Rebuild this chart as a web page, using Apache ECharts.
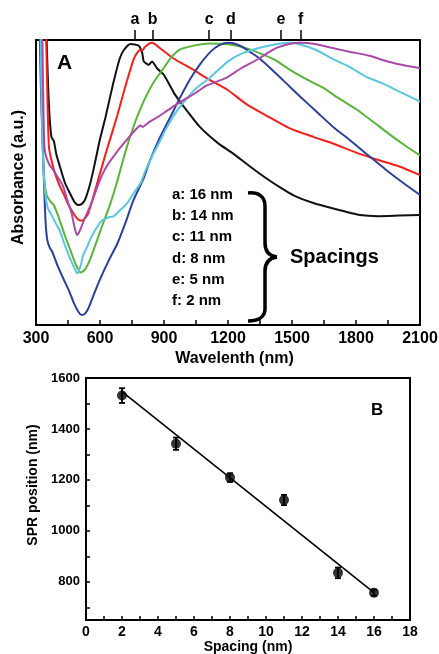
<!DOCTYPE html>
<html>
<head>
<meta charset="utf-8">
<title>SPR spectra</title>
<script src="https://cdn.jsdelivr.net/npm/echarts@6/dist/echarts.min.js"></script>
<style>
  html, body { margin: 0; padding: 0; background: #fff; }
  #chart { width: 439px; height: 654px; }
</style>
</head>
<body>
<div id="chart"></div>
<script>
// ---- panel A: spectra, [wavelength (nm), normalized absorbance] ----
const specA = [[300,3.0],[350,1.0],[360,0.78],[372,0.66],[384,0.645],[395,0.6],[412,0.556],[435,0.5],[459,0.462],[480,0.432],[498,0.421],[515,0.425],[530,0.44],[550,0.485],[568,0.54],[585,0.6],[599,0.649],[626,0.73],[662,0.848],[693,0.936],[712,0.965],[743,0.986],[782,0.98],[798,0.954],[805,0.925],[829,0.913],[844,0.925],[868,0.9],[899,0.878],[950,0.81],[989,0.77],[1067,0.696],[1150,0.64],[1223,0.602],[1300,0.558],[1379,0.515],[1450,0.48],[1505,0.456],[1600,0.428],[1663,0.415],[1750,0.398],[1819,0.386],[1900,0.382],[2003,0.384],[2100,0.386]];
const specB = [[300,3.0],[348,1.0],[355,0.75],[361,0.621],[375,0.57],[389,0.532],[410,0.49],[428,0.462],[450,0.425],[475,0.392],[495,0.372],[514,0.366],[530,0.375],[545,0.392],[565,0.44],[587,0.498],[630,0.61],[681,0.735],[720,0.84],[759,0.935],[787,0.965],[798,0.963],[810,0.975],[829,0.986],[845,0.99],[880,0.972],[943,0.936],[1036,0.896],[1110,0.862],[1192,0.828],[1286,0.775],[1379,0.735],[1489,0.69],[1600,0.66],[1691,0.637],[1800,0.605],[1900,0.58],[2003,0.556],[2100,0.526]];
const specC = [[300,3.0],[326,1.0],[333,0.62],[340,0.5],[350,0.455],[366,0.435],[384,0.42],[410,0.37],[435,0.315],[460,0.265],[485,0.215],[509,0.184],[530,0.195],[556,0.235],[603,0.333],[649,0.427],[681,0.505],[720,0.61],[759,0.7],[790,0.76],[821,0.81],[850,0.85],[883,0.885],[930,0.935],[974,0.966],[1050,0.982],[1114,0.988],[1200,0.985],[1270,0.975],[1348,0.954],[1420,0.93],[1489,0.896],[1560,0.865],[1647,0.832],[1720,0.795],[1803,0.756],[1880,0.713],[1959,0.668],[2030,0.63],[2100,0.595]];
const specD = [[300,3.0],[318,1.0],[326,0.75],[337,0.509],[345,0.36],[353,0.298],[365,0.27],[376,0.257],[400,0.21],[431,0.158],[455,0.12],[478,0.076],[500,0.045],[514,0.035],[530,0.04],[545,0.058],[570,0.105],[599,0.158],[640,0.225],[681,0.285],[720,0.36],[755,0.435],[805,0.515],[833,0.575],[880,0.656],[930,0.73],[974,0.796],[1020,0.86],[1067,0.913],[1120,0.96],[1160,0.982],[1200,0.99],[1240,0.985],[1280,0.97],[1320,0.95],[1348,0.935],[1400,0.9],[1457,0.86],[1491,0.835],[1540,0.8],[1613,0.75],[1700,0.69],[1769,0.65],[1866,0.59],[1940,0.545],[2022,0.498],[2100,0.456]];
const specE = [[300,3.0],[322,1.0],[330,0.65],[342,0.47],[355,0.41],[370,0.39],[390,0.36],[412,0.33],[435,0.28],[459,0.235],[480,0.2],[493,0.181],[510,0.21],[521,0.245],[540,0.275],[560,0.31],[587,0.345],[603,0.362],[618,0.371],[640,0.378],[665,0.382],[690,0.4],[727,0.427],[760,0.465],[790,0.497],[802,0.52],[815,0.545],[849,0.6],[880,0.644],[911,0.69],[950,0.74],[997,0.786],[1050,0.83],[1114,0.867],[1200,0.925],[1270,0.954],[1379,0.978],[1489,0.99],[1535,0.985],[1613,0.965],[1700,0.93],[1769,0.906],[1850,0.87],[1925,0.848],[2000,0.82],[2100,0.784]];
const specF = [[300,3.0],[330,1.0],[335,0.75],[340,0.62],[350,0.585],[365,0.56],[381,0.544],[405,0.515],[428,0.485],[450,0.43],[467,0.392],[480,0.345],[492,0.316],[505,0.33],[525,0.368],[550,0.41],[571,0.45],[595,0.5],[630,0.555],[681,0.609],[720,0.645],[760,0.68],[790,0.7],[800,0.695],[810,0.7],[830,0.712],[860,0.725],[899,0.744],[950,0.77],[1005,0.795],[1050,0.815],[1099,0.84],[1192,0.867],[1260,0.9],[1348,0.936],[1420,0.97],[1489,0.986],[1540,0.99],[1613,0.985],[1700,0.97],[1769,0.959],[1863,0.945],[1925,0.93],[2000,0.915],[2100,0.901]];

const peakLetters = ['a', 'b', 'c', 'd', 'e', 'f'];
const peakPos = [764, 847, 1112, 1213, 1448, 1541];
const letterSpacing = [16, 14, 11, 8, 5, 2];

// ---- panel B: SPR position vs spacing ----
const spacing = [2, 5, 8, 11, 14, 16];
const sprPos = [1531, 1342, 1209, 1121, 835, 757];
const sprErr = [29, 24, 17, 20, 21, 12];
const fitLine = [[2, 1547], [16, 757]];
const sprTicks = [700, 800, 900, 1000, 1100, 1200, 1300, 1400, 1500, 1600];
const sprLabels = [800, 1000, 1200, 1400, 1600];

const FONT = 'Liberation Sans, Arial, sans-serif';
const black = '#000';
const colors = ['#111111', '#f0201c', '#5ab43c', '#2e3f9a', '#5cc6dc', '#a84aa6'];
const spectra = [specA, specB, specC, specD, specE, specF];

const lineAxis = { onZero: false, lineStyle: { color: black, width: 2 } };
const boldText = (size) => ({ color: black, fontWeight: 'bold', fontSize: size, fontFamily: FONT });
const plain = (v) => String(v);

// curly brace next to the spacing list
const braceStyle = { stroke: black, lineWidth: 3.5, fill: null };
const bez = (x1, y1, cpx1, cpy1, cpx2, cpy2, x2, y2) => ({
  type: 'bezierCurve', shape: { x1, y1, cpx1, cpy1, cpx2, cpy2, x2, y2 }, style: braceStyle
});
const seg = (x1, y1, x2, y2) => ({ type: 'line', shape: { x1, y1, x2, y2 }, style: braceStyle });

const chart = echarts.init(document.getElementById('chart'));

chart.setOption({
  animation: false,
  backgroundColor: '#fff',
  grid: [
    { left: 36, right: 19, top: 40, height: 285, outerBoundsMode: 'none' },
    { left: 86, right: 29, top: 378, height: 242, outerBoundsMode: 'none' }
  ],
  xAxis: [
    {
      gridIndex: 0, type: 'value', min: 300, max: 2100, interval: 300, position: 'bottom',
      axisLine: lineAxis,
      axisTick: { inside: true, length: 5, lineStyle: { color: black, width: 1.5 } },
      minorTick: { show: true, splitNumber: 2, length: 5, lineStyle: { color: black, width: 1.5 } },
      axisLabel: Object.assign(boldText(16), { margin: 6, formatter: plain }),
      splitLine: { show: false },
      name: 'Wavelenth (nm)', nameLocation: 'middle', nameGap: 26,
      nameTextStyle: Object.assign(boldText(16), { padding: [0, 0, 0, 13] })
    },
    {
      gridIndex: 0, type: 'value', min: 300, max: 2100, position: 'top',
      axisLine: lineAxis,
      axisTick: { show: true, inside: false, length: 10, customValues: peakPos, lineStyle: { color: black, width: 1.5 } },
      axisLabel: Object.assign(boldText(16), {
        margin: 12, customValues: peakPos,
        formatter: (v) => peakLetters[peakPos.indexOf(v)]
      }),
      splitLine: { show: false }
    },
    {
      gridIndex: 1, type: 'value', min: 0, max: 18, interval: 2, position: 'bottom',
      axisLine: lineAxis,
      axisTick: { inside: true, length: 4, lineStyle: { color: black, width: 1.5 } },
      minorTick: { show: true, splitNumber: 2, length: 4, lineStyle: { color: black, width: 1.5 } },
      axisLabel: Object.assign(boldText(14), { margin: 5, formatter: plain }),
      splitLine: { show: false },
      name: 'Spacing (nm)', nameLocation: 'middle', nameGap: 19,
      nameTextStyle: boldText(14)
    },
    {
      gridIndex: 1, type: 'value', min: 0, max: 18, position: 'top',
      axisLine: lineAxis, axisTick: { show: false }, axisLabel: { show: false }, splitLine: { show: false }
    }
  ],
  yAxis: [
    {
      gridIndex: 0, type: 'value', min: 0, max: 1, position: 'left',
      axisLine: lineAxis, axisTick: { show: false }, axisLabel: { show: false }, splitLine: { show: false },
      name: 'Absorbance (a.u.)', nameLocation: 'middle', nameGap: 9,
      nameTextStyle: Object.assign(boldText(16), { padding: [0, 0, 0, 10] })
    },
    {
      gridIndex: 0, type: 'value', min: 0, max: 1, position: 'right',
      axisLine: lineAxis, axisTick: { show: false }, axisLabel: { show: false }, splitLine: { show: false }
    },
    {
      gridIndex: 1, type: 'value', min: 650, max: 1600, position: 'left',
      axisLine: lineAxis,
      axisTick: { inside: true, length: 4, customValues: sprTicks, lineStyle: { color: black, width: 1.5 } },
      axisLabel: Object.assign(boldText(13), { margin: 6, customValues: sprLabels, formatter: plain }),
      splitLine: { show: false },
      name: 'SPR position (nm)', nameLocation: 'middle', nameGap: 31,
      nameTextStyle: Object.assign(boldText(14), { padding: [0, 0, 0, 28] })
    },
    {
      gridIndex: 1, type: 'value', min: 650, max: 1600, position: 'right',
      axisLine: lineAxis, axisTick: { show: false }, axisLabel: { show: false }, splitLine: { show: false }
    }
  ],
  graphic: [
    { type: 'text', x: 57, y: 63, style: { text: 'A', font: 'bold 21px ' + FONT, fill: black, verticalAlign: 'middle' } },
    {
      type: 'text', x: 172, y: 184,
      style: {
        text: peakLetters.map((l, i) => l + ': ' + letterSpacing[i] + ' nm').join('\n'),
        font: 'bold 15px ' + FONT, lineHeight: 21.3, fill: black
      }
    },
    {
      type: 'group',
      children: [
        bez(248, 193, 258, 192, 265, 196, 265, 206),
        seg(265, 206, 265, 243),
        bez(265, 243, 265, 251, 269, 256, 277, 257),
        bez(277, 257, 269, 258, 265, 263, 265, 271),
        seg(265, 271, 265, 309),
        bez(265, 309, 265, 317, 258, 321, 248, 321)
      ]
    },
    { type: 'text', x: 290, y: 257, style: { text: 'Spacings', font: 'bold 20px ' + FONT, fill: black, verticalAlign: 'middle' } },
    { type: 'text', x: 371, y: 410, style: { text: 'B', font: 'bold 17px ' + FONT, fill: black, verticalAlign: 'middle' } }
  ],
  series: spectra.map((d, i) => ({
    type: 'line', xAxisIndex: 0, yAxisIndex: 0, data: d,
    showSymbol: false, smooth: 0.2, clip: true,
    lineStyle: { color: colors[i], width: 2 }
  })).concat([
    {
      type: 'line', xAxisIndex: 2, yAxisIndex: 2, data: fitLine,
      showSymbol: false, lineStyle: { color: black, width: 1.6 }
    },
    {
      type: 'custom', xAxisIndex: 2, yAxisIndex: 2,
      data: spacing.map((s, i) => [s, sprPos[i], sprErr[i]]),
      renderItem: (params, api) => {
        const x = api.value(0), y = api.value(1), e = api.value(2);
        const hi = api.coord([x, y + e]);
        const lo = api.coord([x, y - e]);
        const w = 3;
        const st = { stroke: black, lineWidth: 1.8 };
        return {
          type: 'group',
          children: [
            { type: 'line', shape: { x1: hi[0], y1: hi[1], x2: lo[0], y2: lo[1] }, style: st },
            { type: 'line', shape: { x1: hi[0] - w, y1: hi[1], x2: hi[0] + w, y2: hi[1] }, style: st },
            { type: 'line', shape: { x1: lo[0] - w, y1: lo[1], x2: lo[0] + w, y2: lo[1] }, style: st }
          ]
        };
      }
    },
    {
      type: 'scatter', xAxisIndex: 2, yAxisIndex: 2,
      data: spacing.map((s, i) => [s, sprPos[i]]),
      symbolSize: 10, itemStyle: { color: black }
    }
  ])
});
</script>
</body>
</html>
